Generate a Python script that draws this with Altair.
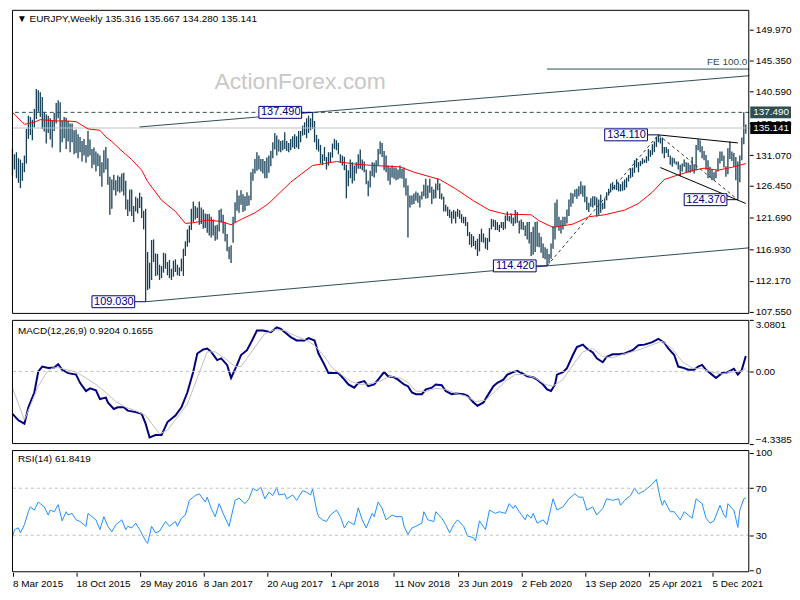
import altair as alt
import pandas as pd

# ---------------- data ----------------
HIGHS = [
    132.0, 131.2, 131.5, 130.6, 130.4, 129.9, 131.0, 135.0, 137.0, 136.8,
    136.4, 138.0, 141.0, 140.8, 140.5, 139.8, 137.6, 137.2, 137.0, 136.6,
    136.3, 137.4, 138.9, 139.3, 139.0, 136.3, 136.8, 136.7, 136.2, 135.8,
    135.8, 134.8, 134.9, 134.2, 133.8, 133.2, 133.5, 132.6, 134.7, 133.4,
    132.0, 132.2, 131.6, 131.3, 131.0, 130.0, 131.8, 132.3, 130.6, 127.8,
    127.4, 128.1, 127.3, 128.0, 127.8, 128.3, 128.4, 127.2, 124.4, 125.9,
    125.9, 123.4, 124.8, 124.6, 125.4, 124.8, 122.7, 123.0, 116.5, 114.9,
    118.3, 118.4, 116.3, 116.2, 114.6, 114.4, 116.4, 116.3, 115.0, 115.3,
    114.0, 115.2, 115.4, 114.6, 114.2, 115.5, 117.0, 118.1, 119.9, 120.5,
    123.0, 124.1, 123.4, 123.2, 124.1, 123.2, 122.9, 122.3, 122.2, 122.2,
    121.8, 121.4, 120.5, 120.6, 122.8, 123.0, 122.1, 121.0, 119.2, 117.3,
    117.5, 121.8, 124.0, 125.8, 125.0, 125.8, 125.2, 124.9, 125.5, 125.0,
    128.5, 129.0, 130.5, 131.5, 131.0, 130.5, 130.5, 130.2, 130.7, 131.0,
    131.7, 133.0, 134.4, 134.0, 133.4, 133.2, 133.3, 134.5, 133.2, 132.9,
    133.5, 133.9, 134.2, 133.9, 134.7, 134.7, 135.5, 136.0, 136.6, 137.0,
    136.6, 137.49, 136.2, 134.1, 133.5, 132.6, 131.2, 132.3, 130.8, 131.5,
    131.5, 132.8, 133.5, 133.3, 132.9, 131.2, 131.0, 130.8, 129.6, 128.8,
    130.4, 130.0, 129.5, 130.0, 131.2, 131.9, 130.4, 130.1, 128.9, 127.2,
    128.7, 130.0, 129.9, 130.3, 132.0, 133.1, 132.9, 131.7, 131.0, 129.5,
    129.2, 129.5, 129.2, 129.2, 128.9, 129.5, 129.0, 129.2, 127.6, 126.5,
    125.0, 125.0, 125.3, 125.6, 125.4, 125.0, 125.6, 126.6, 127.5, 126.5,
    127.5, 126.3, 125.9, 126.8, 127.5, 126.8, 125.3, 124.8, 123.6, 123.3,
    122.9, 122.6, 122.8, 122.6, 123.0, 122.8, 122.2, 121.8, 121.8, 121.0,
    119.5, 119.2, 118.9, 118.2, 118.5, 119.2, 120.0, 119.3, 118.7, 118.6,
    120.1, 121.5, 121.4, 121.3, 121.0, 120.6, 121.0, 121.0, 122.0, 122.6,
    121.9, 122.3, 121.7, 122.8, 122.5, 121.2, 121.4, 121.0, 120.5, 121.0,
    121.0, 119.5, 120.3, 121.0, 121.1, 119.4, 118.8, 117.8, 117.2, 117.0,
    116.2, 117.8, 120.4, 123.9, 124.4, 121.8, 121.3, 121.8, 121.8, 122.9,
    124.4, 125.4, 125.3, 125.9, 126.0, 126.4, 127.1, 126.5, 126.5, 124.8,
    123.9, 124.6, 124.9, 124.9, 124.7, 124.4, 125.1, 123.9, 124.6, 125.5,
    126.0, 126.8, 127.0, 126.6, 127.4, 126.9, 126.7, 127.1, 127.4, 127.7,
    128.1, 129.1, 129.2, 130.3, 130.6, 130.0, 130.2, 130.6, 130.4, 130.9,
    132.0, 131.8, 132.7, 133.1, 133.8, 134.11, 133.7, 133.7, 132.3, 132.3,
    132.0, 131.0, 130.7, 130.6, 130.1, 130.1, 129.6, 129.8, 130.4, 130.0,
    129.9, 129.6, 130.8, 129.7, 132.6, 133.5, 133.3, 132.4, 131.7, 131.1,
    130.3, 129.3, 128.9, 128.5, 128.8, 130.6, 131.6, 131.6, 131.0, 129.4,
    132.1, 133.1, 131.6, 131.4, 130.8, 130.1, 131.0, 133.7, 137.49, 135.667,
]
LOWS = [
    128.0, 128.9, 127.6, 126.9, 126.1, 127.2, 128.5, 129.8, 133.5, 134.1,
    133.3, 135.2, 136.5, 137.6, 136.8, 135.0, 134.6, 132.8, 134.4, 133.4,
    132.2, 134.7, 135.8, 136.6, 131.5, 133.0, 133.6, 132.0, 133.1, 131.5,
    133.0, 131.2, 131.4, 130.6, 131.5, 130.1, 131.0, 129.9, 130.8, 131.0,
    129.1, 129.6, 128.6, 129.4, 127.9, 126.3, 128.4, 128.9, 126.6, 122.1,
    123.0, 125.8, 125.0, 125.6, 125.4, 125.6, 125.0, 122.9, 121.9, 122.6,
    121.9, 121.0, 122.6, 122.3, 123.1, 121.6, 119.9, 109.03, 110.8, 111.0,
    112.3, 115.0, 112.9, 113.0, 112.3, 112.6, 113.4, 114.0, 113.0, 112.6,
    112.3, 112.8, 113.5, 113.0, 112.9, 113.6, 112.9, 115.9, 117.3, 117.9,
    119.8, 121.0, 121.4, 121.6, 120.6, 120.7, 120.0, 120.1, 119.4, 119.0,
    118.7, 119.0, 118.2, 118.4, 119.6, 120.9, 119.3, 118.1, 116.6, 115.4,
    114.85, 117.9, 120.9, 122.7, 122.4, 123.6, 122.5, 122.7, 123.4, 123.5,
    124.3, 127.2, 128.3, 128.7, 128.9, 128.6, 128.3, 127.6, 127.6, 128.4,
    129.4, 130.6, 131.9, 131.0, 131.6, 131.5, 131.8, 132.0, 131.7, 131.5,
    131.8, 132.2, 132.0, 132.2, 132.0, 133.0, 134.0, 134.1, 133.6, 134.4,
    134.8, 135.0, 133.0, 131.9, 131.6, 129.8, 129.6, 130.2, 128.9, 129.5,
    130.0, 130.7, 132.0, 131.8, 131.2, 129.9, 129.5, 128.8, 124.6, 126.4,
    127.6, 126.8, 127.2, 128.3, 129.0, 129.0, 128.8, 128.5, 126.7, 124.9,
    126.2, 127.9, 127.7, 128.4, 129.5, 131.2, 130.8, 128.8, 128.5, 127.2,
    126.6, 127.7, 127.5, 127.3, 127.4, 127.6, 127.5, 126.2, 125.0, 118.7,
    123.2, 123.6, 123.7, 124.2, 123.9, 123.2, 124.4, 124.9, 124.5, 124.6,
    125.4, 123.7, 124.5, 124.6, 125.8, 124.5, 124.4, 122.6, 122.6, 121.9,
    121.6, 120.8, 121.5, 120.8, 121.8, 121.5, 120.9, 120.8, 120.4, 118.9,
    117.6, 117.2, 117.4, 116.9, 115.9, 116.6, 118.0, 117.9, 117.0, 116.8,
    118.0, 119.9, 120.3, 119.8, 119.8, 119.5, 120.1, 119.8, 120.0, 121.2,
    121.1, 120.8, 120.4, 120.8, 120.9, 119.3, 119.9, 119.8, 118.9, 118.4,
    117.8, 115.9, 116.1, 116.5, 117.3, 117.2, 116.4, 115.6, 115.4, 114.42,
    114.8, 115.5, 117.0, 118.4, 120.3, 119.7, 119.3, 119.9, 120.4, 120.8,
    121.9, 123.3, 123.8, 124.8, 124.5, 124.9, 125.2, 124.8, 124.0, 122.8,
    122.5, 123.3, 123.2, 123.5, 121.8, 122.1, 122.4, 122.9, 123.0, 124.3,
    125.0, 125.5, 125.8, 125.9, 125.8, 125.6, 125.6, 125.7, 125.8, 126.2,
    127.1, 127.6, 127.8, 128.4, 129.2, 128.5, 129.4, 129.7, 129.9, 129.9,
    130.2, 130.8, 131.1, 131.5, 132.3, 133.0, 132.8, 131.3, 130.6, 131.4,
    130.8, 129.6, 129.3, 129.8, 129.6, 128.9, 127.9, 128.6, 129.3, 128.4,
    128.5, 128.4, 128.6, 128.3, 128.8, 131.8, 131.5, 130.6, 130.3, 128.9,
    127.6, 127.7, 127.3, 127.3, 127.6, 128.6, 129.8, 130.2, 129.2, 127.8,
    128.2, 130.5, 130.2, 129.3, 127.3, 124.37, 127.0, 130.3, 132.7, 134.28,
]

MA_WEEK = [0, 6, 11, 14, 22, 27, 32, 38, 44, 47, 50, 55, 60, 65, 68, 75, 82, 87, 91,
           98, 105, 110, 115, 122, 128, 130, 140, 151, 157, 163, 173, 182, 195, 202,
           215, 223, 232, 240, 248, 261, 265, 272, 282, 290, 298, 308, 315, 322, 328,
           335, 343, 348, 355, 363, 369]
MA_VALUE = [137.5, 135.7, 136.0, 136.4, 136.2, 136.2, 136.1, 135.0, 134.8, 133.8, 133.1,
            131.7, 130.4, 128.8, 127.1, 124.3, 122.6, 120.8, 120.9, 121.3, 121.1, 120.6,
            121.4, 122.4, 123.6, 124.1, 127.0, 129.5, 129.8, 130.1, 129.7, 129.5, 129.3,
            128.5, 127.4, 126.0, 124.2, 122.8, 122.2, 122.1, 121.2, 120.2, 120.7, 121.8,
            122.1, 122.8, 123.8, 125.5, 127.4, 128.1, 128.8, 129.1, 128.8, 129.3, 129.8]

MACD_WEEK = [0, 3, 6, 8, 11, 13, 15, 18, 21, 23, 25, 28, 32, 34, 37, 39, 42, 44, 47, 48,
             51, 53, 56, 58, 62, 65, 67, 69, 72, 75, 78, 82, 85, 88, 91, 93, 96, 98, 100, 103,
             105, 108, 110, 113, 115, 118, 121, 123, 126, 130, 133, 135, 138, 140, 143, 147,
             149, 152, 154, 157, 159, 162, 164, 167, 169, 172, 174, 177, 179, 182, 184, 187,
             189, 192, 194, 197, 199, 201, 203, 206, 208, 211, 213, 216, 218, 221, 223, 227,
             229, 232, 234, 237, 239, 242, 244, 247, 249, 252, 254, 257, 259, 262, 264, 267,
             269, 271, 273, 274, 277, 279, 282, 284, 287, 289, 292, 294, 297, 299, 302, 305,
             308, 312, 315, 318, 322, 325, 328, 330, 333, 335, 338, 340, 343, 345, 347, 349,
             352, 354, 357, 359, 362, 363, 365, 367, 369]
MACD_VALUE = [-2.53, -2.92, -3.12, -2.14, -1.26, 0.0, 0.29, 0.2, 0.23, 0.43,
              0.1, -0.1, -0.19, -0.68, -1.17, -1.01, -1.13, -1.65, -1.56, -1.85,
              -2.24, -2.14, -2.14, -2.34, -2.43, -2.53, -3.12, -3.94, -3.8, -3.8,
              -3.02, -2.63, -2.14, -1.26, 0.0, 1.07, 1.31, 1.37, 1.17, 0.68,
              0.78, 0.39, -0.39, 0.39, 0.98, 1.27, 1.95, 2.44, 2.44, 2.34,
              2.63, 2.54, 2.25, 2.05, 1.85, 1.85, 1.99, 1.85, 1.07, 0.39,
              -0.1, -0.1, -0.1, -0.49, -0.78, -0.97, -0.68, -0.58, -0.88, -0.78,
              -0.49, -0.04, -0.29, -0.35, -0.49, -0.78, -0.88, -1.26, -1.36, -1.36,
              -1.07, -0.97, -0.78, -0.82, -1.17, -1.36, -1.32, -1.36, -1.46, -1.85,
              -2.05, -1.85, -1.46, -0.88, -0.68, -0.49, -0.19, -0.04, 0.04, -0.15,
              -0.29, -0.35, -0.49, -0.78, -1.07, -1.17, -0.78, -0.19, -0.04, 0.2,
              0.98, 1.46, 1.6, 1.37, 1.13, 0.78, 0.55, 0.88, 1.02, 1.02,
              1.07, 1.27, 1.56, 1.6, 1.75, 1.95, 1.72, 1.37, 0.98, 0.29,
              0.2, 0.1, 0.1, 0.29, 0.39, 0.1, -0.19, -0.39, -0.1, -0.1,
              0.1, 0.16, -0.19, 0.1, 0.92]

SIGNAL_WEEK = [0, 6, 13, 17, 20, 23, 27, 32, 37, 42, 47, 52, 57, 62, 67, 72, 74, 78, 83, 88,
               93, 98, 102, 107, 112, 115, 118, 122, 127, 132, 137, 142, 148, 152, 157, 161,
               165, 170, 175, 180, 185, 190, 195, 199, 203, 208, 213, 218, 223, 228, 233,
               238, 243, 248, 253, 258, 263, 268, 272, 277, 282, 287, 292, 297, 302, 307,
               312, 317, 322, 327, 332, 337, 342, 347, 352, 357, 362, 367, 369]
SIGNAL_VALUE = [-0.97, -2.9, -0.88, -0.1, 0.2, 0.23, 0.1, -0.04, -0.39, -0.78,
                -1.26, -1.8, -2.14, -2.34, -2.63, -3.41, -3.74, -3.5, -2.73, -1.95,
                -0.39, 1.17, 1.17, 0.78, 0.29, 0.29, 0.78, 1.46, 2.25, 2.5,
                2.44, 2.15, 1.85, 1.56, 0.88, 0.2, -0.15, -0.58, -0.78, -0.74,
                -0.58, -0.29, -0.39, -0.65, -1.17, -1.2, -1.01, -1.07, -1.32, -1.46,
                -1.8, -1.72, -1.17, -0.58, -0.19, -0.19, -0.39, -0.78, -0.88, -0.49,
                0.39, 1.17, 1.37, 0.88, 0.82, 1.02, 1.17, 1.37, 1.6, 1.8,
                1.37, 0.59, 0.2, 0.16, -0.04, -0.15, -0.04, 0.04, 0.17]

RSI_WEEK = [0, 1, 3, 4, 6, 8, 9, 11, 13, 14, 16, 18, 19, 21, 23, 25, 27, 28, 30, 32,
            34, 37, 38, 40, 42, 44, 46, 48, 50, 52, 53, 55, 57, 58, 60, 62, 64, 67, 68, 70,
            72, 74, 77, 79, 82, 83, 85, 87, 89, 92, 94, 97, 98, 100, 102, 104, 106, 109, 112, 114,
            117, 119, 121, 123, 125, 127, 129, 131, 133, 134, 137, 138, 141, 143, 146, 148, 150, 151, 153, 154,
            156, 158, 160, 163, 165, 167, 169, 172, 174, 176, 178, 181, 182, 184, 186, 188, 191, 193, 196, 197,
            199, 201, 203, 206, 207, 209, 212, 213, 216, 218, 220, 222, 224, 227, 229, 232, 233, 235, 238, 240,
            243, 245, 248, 250, 252, 253, 255, 258, 259, 261, 262, 264, 267, 269, 272, 274, 277, 280, 283, 285,
            287, 289, 292, 294, 297, 299, 302, 305, 306, 308, 311, 313, 315, 318, 322, 324, 326, 327, 328, 331,
            333, 336, 338, 340, 342, 344, 347, 349, 351, 353, 356, 358, 359, 360, 362, 363, 365, 366, 368, 369]
RSI_VALUE = [28.0, 34.8, 36.2, 32.0, 39.0, 50.0, 54.1, 51.4, 58.3, 56.9,
             54.1, 47.2, 51.4, 50.0, 56.1, 42.3, 50.0, 47.2, 48.6, 43.1,
             41.7, 37.6, 48.6, 45.8, 43.1, 34.8, 45.8, 37.6, 32.9, 39.0,
             40.3, 43.1, 34.8, 37.6, 36.2, 40.3, 34.8, 25.2, 23.0, 37.6,
             32.0, 33.4, 41.7, 37.6, 41.7, 37.6, 44.5, 47.2, 59.7, 63.8,
             65.2, 58.3, 62.4, 52.8, 45.8, 56.9, 48.6, 37.6, 59.7, 61.6,
             56.9, 61.0, 69.9, 67.9, 70.7, 61.0, 66.6, 63.8, 70.7, 64.3,
             65.2, 61.0, 64.3, 59.7, 67.9, 66.6, 64.3, 69.3, 51.4, 45.8,
             43.1, 41.7, 47.2, 51.4, 45.8, 36.2, 41.7, 39.0, 53.3, 43.1,
             36.2, 48.6, 45.8, 58.3, 52.8, 43.1, 47.2, 45.8, 45.8, 37.6,
             30.7, 36.2, 37.6, 40.3, 50.0, 43.1, 41.7, 50.0, 44.5, 39.0,
             32.0, 39.0, 43.1, 37.6, 29.3, 27.9, 25.2, 42.3, 34.8, 51.4,
             48.6, 50.0, 48.6, 56.9, 52.8, 55.5, 50.0, 43.1, 47.8, 44.5,
             48.6, 40.3, 43.1, 39.0, 61.0, 51.4, 54.1, 61.0, 65.2, 62.4,
             62.4, 51.4, 54.1, 47.2, 52.8, 61.0, 59.7, 61.0, 55.5, 59.7,
             63.8, 69.9, 65.2, 67.9, 73.5, 77.6, 61.0, 55.5, 59.7, 50.0,
             50.0, 43.1, 50.0, 47.2, 44.5, 61.0, 56.9, 44.5, 40.3, 42.3,
             55.5, 47.2, 45.0, 56.9, 52.8, 51.4, 36.7, 51.4, 61.0, 61.84]

DATE_LABELS = ["8 Mar 2015", "18 Oct 2015", "29 May 2016", "8 Jan 2017", "20 Aug 2017",
               "1 Apr 2018", "11 Nov 2018", "23 Jun 2019", "2 Feb 2020", "13 Sep 2020",
               "25 Apr 2021", "5 Dec 2021"]
PRICE_TICKS = [107.55, 112.17, 116.93, 121.69, 126.45, 131.07, 135.83, 140.59, 145.35, 149.97]
MACD_TICKS = [-4.3385, 0.0, 3.0801]
RSI_TICKS = [0, 30, 70, 100]

HIGH_LEVEL = 137.49
BID_LEVEL = 135.141
FE_LEVEL = 144.0

ANNOT_WEEK = [151, 67, 269, 325, 365]
ANNOT_PRICE = [137.49, 109.03, 114.42, 134.11, 124.37]
ANNOT_TEXT = ["137.490", "109.030", "114.420", "134.110", "124.370"]

CHANNEL_ID = ["upper", "upper", "lower", "lower", "fe", "fe"]
CHANNEL_WEEK = [64, 370.75, 67, 370.75, 269, 370.75]
CHANNEL_PRICE = [135.3, 143.0, 109.03, 117.13, 144.0, 144.0]
WEDGE_ID = ["top", "top", "bottom", "bottom"]
WEDGE_WEEK = [325, 365, 326, 369]
WEDGE_PRICE = [134.11, 132.9, 129.2, 123.8]
DIAG_ID = ["a", "a", "b", "b"]
DIAG_WEEK = [269, 325, 325, 365]
DIAG_PRICE = [114.42, 134.11, 134.11, 124.37]

TITLE_MAIN = "\u25bc EURJPY,Weekly  135.316 135.667 134.280 135.141"
TITLE_MACD = "MACD(12,26,9) 0.9204 0.1655"
TITLE_RSI = "RSI(14) 61.8419"

# ---------------- chart ----------------
W, H1, H2, H3 = 742, 306, 125, 123
FONT = "Liberation Sans"
BAR_COLOR = "#153F57"
SLATE = "#2F4F4F"
NAVY = "#000080"

xs = alt.Scale(domain=[-0.25, 370.75], nice=False, zero=False)
ps = alt.Scale(domain=[107.2, 152.9], nice=False, zero=False)
ms = alt.Scale(domain=[-4.3385, 3.0801], nice=False, zero=False)
rs = alt.Scale(domain=[-1.5, 102.5], nice=False, zero=False)

price_axis = alt.Axis(orient="right", values=PRICE_TICKS, format=".3f", grid=False,
                      domain=False, tickSize=4, labelPadding=2, labelOverlap=False)
macd_axis = alt.Axis(orient="right", values=MACD_TICKS, grid=False, domain=False, tickSize=4,
                     labelPadding=2, labelFlush=True, labelOverlap=False,
                     labelExpr="datum.value == 0 ? '0.00' : format(datum.value, '.4f')")
rsi_axis = alt.Axis(orient="right", values=RSI_TICKS, grid=False, domain=False, tickSize=4,
                    labelPadding=2, labelFlush=True, labelOverlap=False)
label_array = "[" + ",".join("'" + s + "'" for s in DATE_LABELS) + "]"
date_axis = alt.Axis(orient="bottom", values=[32 * k for k in range(len(DATE_LABELS))],
                     labelExpr=label_array + "[round(datum.value / 32)]",
                     grid=False, domain=False, tickSize=4, labelAlign="left",
                     labelPadding=2, labelOverlap=False, labelFlush=False)


def xe(field="i", axis=None):
    return alt.X(f"{field}:Q", scale=xs, axis=axis, title=None)


def pe(field="p"):
    return alt.Y(f"{field}:Q", scale=ps, axis=price_axis, title=None)


def me(field="v"):
    return alt.Y(f"{field}:Q", scale=ms, axis=macd_axis, title=None)


def re_(field="v"):
    return alt.Y(f"{field}:Q", scale=rs, axis=rsi_axis, title=None)


def one(**kw):
    return pd.DataFrame({k: [v] for k, v in kw.items()})


def frame(h):
    # panel border drawn inside the plot rectangle so that it stays on the pixel grid
    return alt.Chart(one(t="")).mark_rect(
        fillOpacity=0, stroke="black", strokeWidth=1
    ).encode(x=alt.value(0.5), x2=alt.value(W - 0.5), y=alt.value(0.5), y2=alt.value(h - 0.5))


bars_df = pd.DataFrame({"i": list(range(len(HIGHS))), "hi": HIGHS, "lo": LOWS[:len(HIGHS)]})
ma_df = pd.DataFrame({"i": MA_WEEK, "p": MA_VALUE})
chan_df = pd.DataFrame({"id": CHANNEL_ID, "i": CHANNEL_WEEK, "p": CHANNEL_PRICE})
wedge_df = pd.DataFrame({"id": WEDGE_ID, "i": WEDGE_WEEK, "p": WEDGE_PRICE})
diag_df = pd.DataFrame({"id": DIAG_ID, "i": DIAG_WEEK, "p": DIAG_PRICE})
ann_df = pd.DataFrame({"i": ANNOT_WEEK, "p": ANNOT_PRICE, "t": ANNOT_TEXT})
hl_df = pd.DataFrame({"p": [HIGH_LEVEL, BID_LEVEL], "t": ["137.490", "135.141"],
                      "c": [SLATE, "#000000"]})

# main price panel
bars = alt.Chart(bars_df).mark_rule(color=BAR_COLOR, strokeWidth=1.3).encode(
    x=xe(), y=pe("lo"), y2="hi:Q")

watermark = alt.Chart(one(t="ActionForex.com")).mark_text(
    font=FONT, fontSize=23, color="#C8C8C8", align="center", baseline="middle"
).encode(x=alt.value(290), y=alt.value(73), text="t:N")

bid_line = alt.Chart(one(p=BID_LEVEL)).mark_rule(color="#C0C0C0", strokeWidth=1).encode(y=pe())
high_line = alt.Chart(one(p=HIGH_LEVEL)).mark_rule(
    color=SLATE, strokeWidth=1, strokeDash=[4, 3]).encode(y=pe())

channels = alt.Chart(chan_df).mark_line(color=SLATE, strokeWidth=1).encode(
    x=xe(), y=pe(), detail="id:N")
fe_label = alt.Chart(one(i=370.75, p=FE_LEVEL, t="FE 100.0")).mark_text(
    font=FONT, fontSize=10, color=SLATE, align="right", baseline="bottom", dx=-2, dy=-2
).encode(x=xe(), y=pe(), text="t:N")

ma_line = alt.Chart(ma_df).mark_line(color="#FF0000", strokeWidth=1).encode(x=xe(), y=pe())

wedge = alt.Chart(wedge_df).mark_line(color="#000000", strokeWidth=1).encode(
    x=xe(), y=pe(), detail="id:N")
diag = alt.Chart(diag_df).mark_line(color="#333333", strokeWidth=1, strokeDash=[3, 3]).encode(
    x=xe(), y=pe(), detail="id:N")

ann_conn = alt.Chart(ann_df).mark_rule(color=NAVY, strokeWidth=1, xOffset=-11, x2Offset=0).encode(
    x=xe(), x2="i:Q", y=pe())
ann_box = alt.Chart(ann_df).mark_rect(
    fill="white", stroke=NAVY, strokeWidth=1,
    xOffset=-54, x2Offset=-11, yOffset=-6, y2Offset=6
).encode(x=xe(), x2="i:Q", y=pe(), y2="p:Q")
ann_text = alt.Chart(ann_df).mark_text(
    font=FONT, fontSize=11, color=NAVY, align="center", baseline="middle", xOffset=-32
).encode(x=xe(), y=pe(), text="t:N")

hl_box = alt.Chart(hl_df).mark_rect(yOffset=-6, y2Offset=6).encode(
    x=alt.value(W + 1), x2=alt.value(W + 42), y=pe(), y2="p:Q",
    color=alt.Color("c:N", scale=None))
hl_text = alt.Chart(hl_df).mark_text(
    font=FONT, fontSize=10, color="white", align="left", baseline="middle"
).encode(x=alt.value(W + 4), y=pe(), text="t:N")

title_main = alt.Chart(one(t=TITLE_MAIN)).mark_text(
    font=FONT, fontSize=10, color="black", align="left", baseline="middle"
).encode(x=alt.value(5), y=alt.value(9), text="t:N")

main = alt.layer(
    bars, watermark, bid_line, high_line, channels, fe_label, ma_line, wedge, diag,
    ann_conn, ann_box, ann_text, hl_box, hl_text, title_main, frame(H1)
).properties(width=W, height=H1)

# MACD panel
macd_df = pd.DataFrame({"i": MACD_WEEK, "v": MACD_VALUE})
sig_df = pd.DataFrame({"i": SIGNAL_WEEK, "v": SIGNAL_VALUE})
macd_line = alt.Chart(macd_df).mark_line(color=NAVY, strokeWidth=2).encode(x=xe(), y=me())
macd_zero = alt.Chart(one(v=0.0)).mark_rule(color="#BFBFBF", strokeDash=[3, 3]).encode(y=me())
sig_line = alt.Chart(sig_df).mark_line(color="#C0C0C0", strokeWidth=1).encode(x=xe(), y=me())
title_macd = alt.Chart(one(t=TITLE_MACD)).mark_text(
    font=FONT, fontSize=10, color="black", align="left", baseline="middle"
).encode(x=alt.value(6), y=alt.value(11), text="t:N")
macd = alt.layer(macd_line, macd_zero, sig_line, title_macd, frame(H2)).properties(
    width=W, height=H2)

# RSI panel
rsi_df = pd.DataFrame({"i": RSI_WEEK, "v": RSI_VALUE})
rsi_line = alt.Chart(rsi_df).mark_line(color="#1E90FF", strokeWidth=1).encode(
    x=xe("i", date_axis), y=re_())
rsi_levels = alt.Chart(pd.DataFrame({"v": [30, 70]})).mark_rule(
    color="#BFBFBF", strokeDash=[3, 3]).encode(y=re_())
title_rsi = alt.Chart(one(t=TITLE_RSI)).mark_text(
    font=FONT, fontSize=10, color="black", align="left", baseline="middle"
).encode(x=alt.value(6), y=alt.value(9), text="t:N")
rsi = alt.layer(rsi_line, rsi_levels, title_rsi, frame(H3)).properties(width=W, height=H3)

chart = alt.vconcat(main, macd, rsi, spacing=2).properties(
    padding={"left": 0, "top": 0, "right": 0, "bottom": 0}, background="white"
).configure(padding={"left": 0, "top": 0, "right": 0, "bottom": 0}).configure_view(
    strokeWidth=0
).configure_axis(
    labelFont=FONT, labelFontSize=10, labelColor="black", tickColor="black"
)

chart.save("out.html", embed_options={"renderer": "svg", "actions": False})
